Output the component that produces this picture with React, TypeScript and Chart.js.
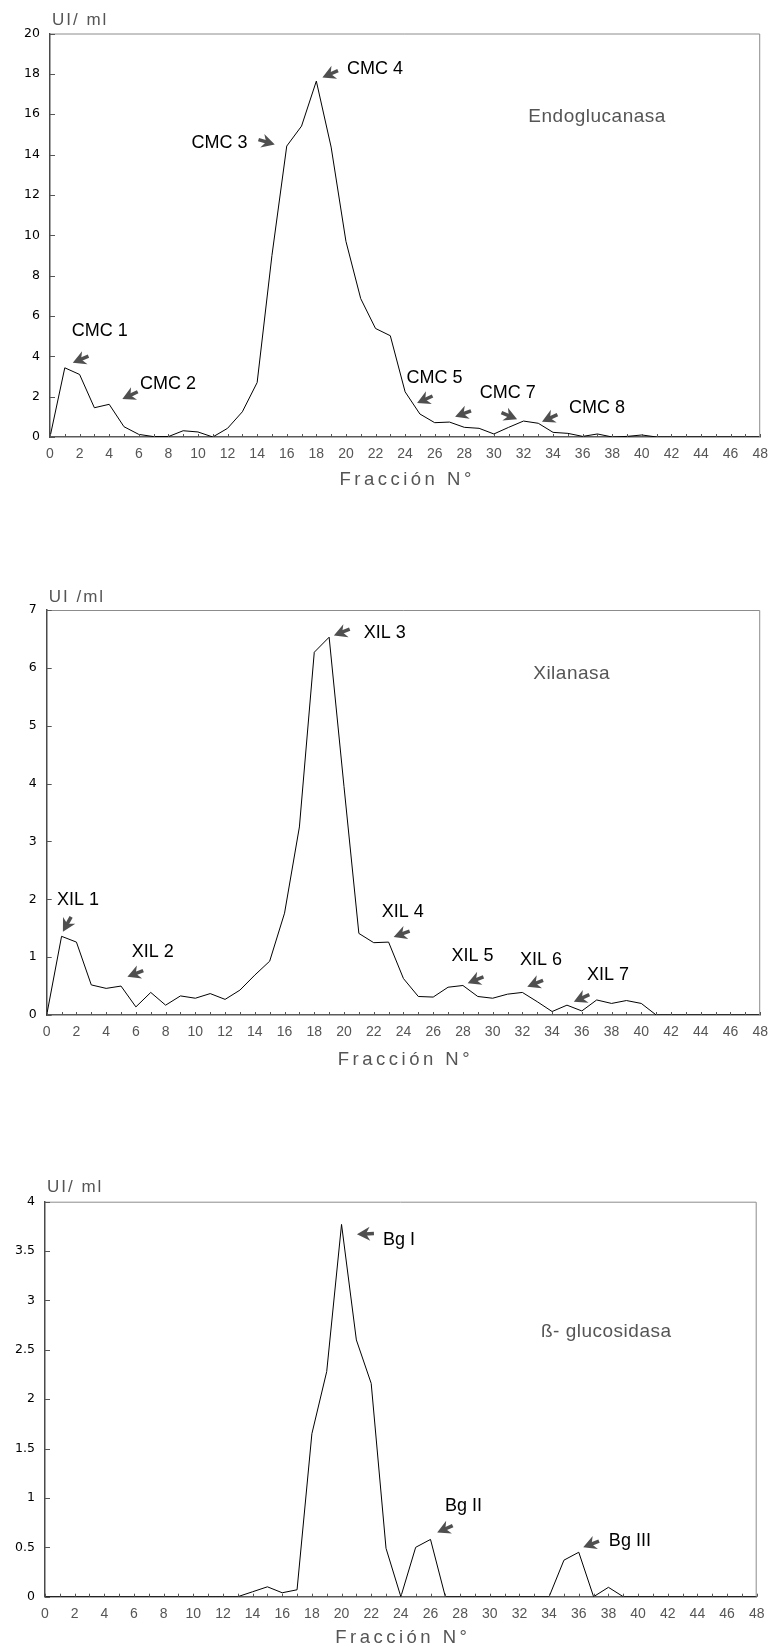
import React, { useEffect, useRef } from 'react';
import { Chart, registerables } from 'chart.js';

Chart.register(...registerables);

const FONT = "'Liberation Sans', Arial, Helvetica, sans-serif";

// Fracción N° (x categories)
const fractions = [
  0, 1, 2, 3, 4, 5, 6, 7, 8, 9, 10, 11, 12, 13, 14, 15, 16, 17, 18, 19, 20, 21, 22, 23, 24,
  25, 26, 27, 28, 29, 30, 31, 32, 33, 34, 35, 36, 37, 38, 39, 40, 41, 42, 43, 44, 45, 46, 47, 48,
];

// UI/ml — Endoglucanasa
const endoglucanasa = [
  0, 3.43, 3.1, 1.45, 1.62, 0.51, 0.13, 0.02, 0.02, 0.31, 0.25, 0, 0.43, 1.25, 2.7, 9.0, 14.42,
  15.41, 17.64, 14.37, 9.7, 6.86, 5.38, 5.02, 2.24, 1.14, 0.71, 0.74, 0.48, 0.43, 0.15, 0.48, 0.79,
  0.68, 0.23, 0.18, 0.03, 0.15, 0, 0.03, 0.1, 0, 0, 0, 0, 0, 0, 0, 0,
];

// UI/ml — Xilanasa
const xilanasa = [
  0, 1.36, 1.26, 0.52, 0.46, 0.5, 0.14, 0.39, 0.17, 0.33, 0.29, 0.37, 0.27, 0.43, 0.69, 0.93, 1.76,
  3.25, 6.27, 6.53, 3.95, 1.41, 1.25, 1.26, 0.63, 0.32, 0.31, 0.48, 0.51, 0.32, 0.29, 0.36, 0.39,
  0.23, 0.06, 0.17, 0.07, 0.26, 0.2, 0.25, 0.2, 0, 0, 0, 0, 0, 0, 0, 0,
];

// UI/ml — ß-glucosidasa
const betaGlucosidasa = [
  0, 0, 0, 0, 0, 0, 0, 0, 0, 0, 0, 0, 0, 0, 0.05, 0.1, 0.04, 0.07, 1.65, 2.28, 3.77, 2.6, 2.16,
  0.49, 0, 0.5, 0.58, 0, 0, 0, 0, 0, 0, 0, 0, 0.37, 0.45, 0, 0.095, 0, 0, 0, 0, 0, 0, 0, 0, 0, 0,
];

// Y axis ranges
const endoYTicks = { max: 20, step: 2 };
const xilYTicks = { max: 7, step: 1 };
const bgYTicks = { max: 4, step: 0.5 };

// Peak annotations: label text, arrow tip (data coords), arrow direction, label anchor (data coords)
const endoAnnotations = [
  { text: 'CMC 1', tip: [1.54, 3.68], dir: [-1, 0.42], at: [1.47, 5.3] },
  { text: 'CMC 2', tip: [4.89, 1.88], dir: [-1, 0.48], at: [6.09, 2.69] },
  { text: 'CMC 3', tip: [15.19, 14.5], dir: [1, 0.3], at: [9.57, 14.62] },
  { text: 'CMC 4', tip: [18.41, 17.82], dir: [-1, 0.44], at: [20.08, 18.32] },
  { text: 'CMC 5', tip: [24.81, 1.68], dir: [-1, 0.46], at: [24.1, 2.99] },
  { text: '', tip: [27.38, 1.0], dir: [-1, 0.38], at: [0, 0] },
  { text: 'CMC 7', tip: [31.57, 0.88], dir: [1, 0.43], at: [29.05, 2.24] },
  { text: 'CMC 8', tip: [33.25, 0.76], dir: [-1, 0.46], at: [35.07, 1.5] },
];

const xilAnnotations = [
  { text: 'XIL 1', tip: [1.09, 1.44], dir: [-0.55, 1], at: [0.69, 2.01] },
  { text: 'XIL 2', tip: [5.43, 0.66], dir: [-1, 0.4], at: [5.72, 1.11] },
  { text: 'XIL 3', tip: [19.32, 6.56], dir: [-1, 0.4], at: [21.33, 6.62] },
  { text: 'XIL 4', tip: [23.34, 1.35], dir: [-1, 0.36], at: [22.54, 1.8] },
  { text: 'XIL 5', tip: [28.32, 0.55], dir: [-1, 0.4], at: [27.23, 1.04] },
  { text: 'XIL 6', tip: [32.33, 0.49], dir: [-1, 0.4], at: [31.84, 0.98] },
  { text: 'XIL 7', tip: [35.46, 0.23], dir: [-1, 0.45], at: [36.35, 0.71] },
];

const bgAnnotations = [
  { text: 'Bg I', tip: [21.04, 3.67], dir: [-1, 0.05], at: [22.79, 3.63] },
  { text: 'Bg II', tip: [26.45, 0.65], dir: [-1, 0.45], at: [26.97, 0.93] },
  { text: 'Bg III', tip: [36.3, 0.5], dir: [-1, 0.4], at: [38.03, 0.58] },
];

type Ann = { text: string; tip: number[]; dir: number[]; at: number[] };

function drawArrow(ctx: CanvasRenderingContext2D, tx: number, ty: number, dx: number, dy: number) {
  const len = Math.hypot(dx, dy);
  const ux = dx / len;
  const uy = dy / len;
  const nx = -uy;
  const ny = ux;
  const pt = (a: number, b: number): [number, number] => [tx + ux * a + nx * b, ty + uy * a + ny * b];
  ctx.fillStyle = '#4f4f4f';
  ctx.strokeStyle = '#4f4f4f';
  ctx.beginPath();
  ctx.moveTo(...pt(0, 0));
  ctx.lineTo(...pt(-13, -7));
  ctx.lineTo(...pt(-9, 0));
  ctx.lineTo(...pt(-13, 7));
  ctx.closePath();
  ctx.fill();
  ctx.lineWidth = 3.5;
  ctx.beginPath();
  ctx.moveTo(...pt(-8, 0));
  ctx.lineTo(...pt(-17, 0));
  ctx.stroke();
}

const decorPlugin = {
  id: 'decor',
  afterDraw(chart: any, _args: any, opts: any) {
    const { ctx, chartArea: ca, scales } = chart;
    const x = scales.x;
    const y = scales.y;
    ctx.save();
    // top & right frame
    ctx.strokeStyle = '#8c8c8c';
    ctx.lineWidth = 1;
    ctx.beginPath();
    ctx.moveTo(ca.left, ca.top + 0.5);
    ctx.lineTo(ca.right - 0.5, ca.top + 0.5);
    ctx.lineTo(ca.right - 0.5, ca.bottom);
    ctx.stroke();
    // inner x ticks
    ctx.strokeStyle = '#555';
    ctx.lineWidth = 1;
    ctx.beginPath();
    for (const f of fractions) {
      const px = Math.round(x.getPixelForValue(f)) + 0.5;
      ctx.moveTo(px, ca.bottom);
      ctx.lineTo(px, ca.bottom - 3);
    }
    ctx.stroke();
    // inner y ticks
    ctx.beginPath();
    for (const t of y.ticks) {
      const py = Math.round(y.getPixelForValue(t.value)) + 0.5;
      ctx.moveTo(ca.left, py);
      ctx.lineTo(ca.left + 5, py);
    }
    ctx.stroke();
    // annotations
    for (const a of opts.annotations as Ann[]) {
      const tx = x.getPixelForValue(a.tip[0]);
      const ty = y.getPixelForValue(a.tip[1]);
      drawArrow(ctx, tx, ty, a.dir[0], a.dir[1]);
      if (a.text) {
        ctx.fillStyle = '#000';
        ctx.font = `18px ${FONT}`;
        ctx.textAlign = 'left';
        ctx.textBaseline = 'alphabetic';
        ctx.fillText(a.text, x.getPixelForValue(a.at[0]), y.getPixelForValue(a.at[1]) + 6.4);
      }
    }
    // enzyme name
    ctx.fillStyle = '#555';
    ctx.font = `19px ${FONT}`;
    ctx.textAlign = 'left';
    ctx.textBaseline = 'alphabetic';
    (ctx as any).letterSpacing = '0.5px';
    ctx.fillText(opts.name, x.getPixelForValue(opts.nameAt[0]), y.getPixelForValue(opts.nameAt[1]) + 6.8);
    // y title
    ctx.font = `17px ${FONT}`;
    (ctx as any).letterSpacing = '2px';
    ctx.fillText(opts.yTitle, ca.left + 2, ca.top - opts.yTitleOffset + 6);
    // x title
    ctx.font = `18.5px ${FONT}`;
    (ctx as any).letterSpacing = '3.5px';
    ctx.textAlign = 'center';
    ctx.fillText('Fracción N°', (ca.left + ca.right) / 2 + 2, ca.bottom + opts.xTitleOffset + 6.6);
    (ctx as any).letterSpacing = '0px';
    ctx.restore();
  },
};

type PanelCfg = {
  top: number;
  height: number;
  padding: { left: number; top: number; right: number; bottom: number };
  yWidth: number;
  values: number[];
  yTicks: { max: number; step: number };
  yTitle: string;
  yTitleOffset: number;
  xTitleOffset: number;
  name: string;
  nameAt: number[];
  annotations: Ann[];
};

const panels: PanelCfg[] = [
  {
    top: 0,
    height: 500,
    padding: { left: 0, top: 33.5, right: 10, bottom: 33 },
    yWidth: 50,
    values: endoglucanasa,
    yTicks: endoYTicks,
    yTitle: 'UI/ ml',
    yTitleOffset: 14.3,
    xTitleOffset: 41.3,
    name: 'Endoglucanasa',
    nameAt: [32.33, 15.94],
    annotations: endoAnnotations,
  },
  {
    top: 560,
    height: 520,
    padding: { left: 0, top: 50, right: 14, bottom: 35 },
    yWidth: 46.7,
    values: xilanasa,
    yTicks: xilYTicks,
    yTitle: 'UI /ml',
    yTitleOffset: 14,
    xTitleOffset: 43,
    name: 'Xilanasa',
    nameAt: [32.73, 5.92],
    annotations: xilAnnotations,
  },
  {
    top: 1150,
    height: 502,
    padding: { left: 0, top: 51.7, right: 20.3, bottom: 25.3 },
    yWidth: 45,
    values: betaGlucosidasa,
    yTicks: bgYTicks,
    yTitle: 'UI/ ml',
    yTitleOffset: 15.7,
    xTitleOffset: 40,
    name: 'ß- glucosidasa',
    nameAt: [33.45, 2.7],
    annotations: bgAnnotations,
  },
];

function Panel({ cfg }: { cfg: PanelCfg }) {
  const ref = useRef<HTMLCanvasElement>(null);
  useEffect(() => {
    const chart = new Chart(ref.current as HTMLCanvasElement, {
      type: 'line',
      data: {
        datasets: [
          {
            data: fractions.map((f, i) => ({ x: f, y: cfg.values[i] })),
            borderColor: '#000',
            borderWidth: 1,
            pointRadius: 0,
            tension: 0,
            fill: false,
          },
        ],
      },
      options: {
        responsive: false,
        animation: false,
        events: [],
        layout: { padding: cfg.padding },
        plugins: {
          legend: { display: false },
          tooltip: { enabled: false },
          decor: {
            annotations: cfg.annotations,
            name: cfg.name,
            nameAt: cfg.nameAt,
            yTitle: cfg.yTitle,
            yTitleOffset: cfg.yTitleOffset,
            xTitleOffset: cfg.xTitleOffset,
          },
        } as any,
        scales: {
          x: {
            type: 'linear',
            min: 0,
            max: 48,
            afterFit: (s: any) => {
              s.height = 30;
            },
            grid: { display: false, drawTicks: false },
            border: { display: true, color: '#5a5a5a', width: 1.5 },
            ticks: {
              stepSize: 1,
              autoSkip: false,
              maxRotation: 0,
              padding: 9,
              color: '#555',
              font: { family: FONT, size: 14 },
              callback: (v: any) => (Number(v) % 2 === 0 ? String(v) : ''),
            },
          },
          y: {
            min: 0,
            max: cfg.yTicks.max,
            afterFit: (s: any) => {
              s.width = cfg.yWidth;
            },
            grid: { display: false, drawTicks: false },
            border: { display: true, color: '#4a4a4a', width: 1.5 },
            ticks: {
              stepSize: cfg.yTicks.step,
              padding: 10,
              color: '#000',
              font: { family: "'DejaVu Sans', sans-serif", size: 12.5 },
              callback: (v: any) => String(Math.round(Number(v) * 100) / 100),
            },
          },
        } as any,
      },
      plugins: [decorPlugin],
    });
    return () => chart.destroy();
  }, [cfg]);
  return (
    <canvas
      ref={ref}
      width={777}
      height={cfg.height}
      style={{ position: 'absolute', left: 0, top: cfg.top, width: 777, height: cfg.height }}
    />
  );
}

export default function App() {
  return (
    <div style={{ position: 'absolute', left: 0, top: 0, width: 777, height: 1652, background: '#fff' }}>
      {panels.map((p, i) => (
        <Panel key={i} cfg={p} />
      ))}
    </div>
  );
}
